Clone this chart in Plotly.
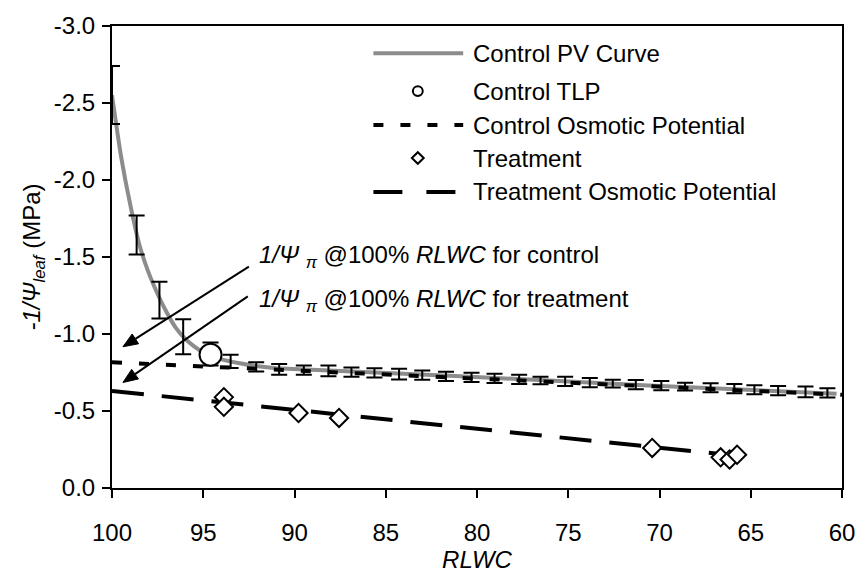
import math
import plotly.graph_objects as go

# ---------------- data ----------------
pv_x = [100, 99.5, 99, 98.5, 98, 97.5, 97, 96.5, 96, 95.5, 95, 94.5, 94, 93, 92, 91, 81.2, 70.9, 60.3]
pv_y = [-2.55, -2.15, -1.84, -1.58, -1.40, -1.26, -1.14, -1.04, -0.97, -0.92, -0.88, -0.855,
        -0.835, -0.81, -0.79, -0.778, -0.728, -0.667, -0.612]

ctrl_x = [100, 98.65, 97.4, 96.1, 94.6, 93.5, 92.1, 90.84, 89.49, 88.14, 86.88, 85.62, 84.27,
          83.0, 81.7, 80.3, 79.04, 77.69, 76.52, 75.17, 73.82, 72.56, 71.3, 69.9, 68.6, 67.2,
          65.9, 64.8, 63.5, 62.0, 60.8]
ctrl_y = [-2.552, -1.643, -1.22, -0.982, -0.87, -0.822, -0.786, -0.770, -0.765, -0.760, -0.752,
          -0.747, -0.740, -0.733, -0.725, -0.718, -0.712, -0.705, -0.698, -0.692, -0.685, -0.678,
          -0.672, -0.665, -0.658, -0.651, -0.645, -0.638, -0.632, -0.624, -0.617]
ctrl_err = [0.188, 0.127, 0.12, 0.113, 0.075, 0.043, 0.03, 0.035, 0.03, 0.035, 0.03, 0.03, 0.035,
            0.03, 0.03, 0.03, 0.03, 0.03, 0.025, 0.03, 0.03, 0.025, 0.03, 0.03, 0.025, 0.03, 0.03,
            0.03, 0.03, 0.035, 0.03]

tlp_x = [94.6]
tlp_y = [-0.865]

ctrl_osm_x = [100, 60]
ctrl_osm_y = [-0.816, -0.605]

trt_x = [93.87, 93.87, 89.78, 87.56, 70.4, 66.65, 66.16, 65.75]
trt_y = [-0.59, -0.527, -0.487, -0.455, -0.26, -0.199, -0.185, -0.216]

trt_osm_x = [100, 65.8]
trt_osm_y = [-0.63, -0.21]

x_ticks = [100, 95, 90, 85, 80, 75, 70, 65, 60]
x_ticklabels = ["100", "95", "90", "85", "80", "75", "70", "65", "60"]
y_ticks = [0, -0.5, -1.0, -1.5, -2.0, -2.5, -3.0]
y_ticklabels = ["0.0", "-0.5", "-1.0", "-1.5", "-2.0", "-2.5", "-3.0"]

legend_names = ["Control PV Curve", "Control TLP", "Control Osmotic Potential",
                "Treatment", "Treatment Osmotic Potential"]

# annotation arrows (head / tail in data units)
arrow_heads = [(99.4, -0.917), (99.4, -0.685)]
arrow_tails = [(92.5, -1.437), (92.56, -1.244)]

# ---------------- layout constants ----------------
W, H = 867, 579
L, R, T, B = 112, 15, 15, 88
PW, PH = W - L - R, H - T - B
FONT = "Liberation Sans, Arial, sans-serif"
FS = 24
GRAY = "#8c8c8c"
XR = [100, 60]
YR = [0, -3]


def px(xp):
    return (xp - L) / PW


def py(yp):
    return (H - B - yp) / PH


def dx2px(v):
    return L + (v - XR[0]) / (XR[1] - XR[0]) * PW


def dy2px(v):
    return H - B - (v - YR[0]) / (YR[1] - YR[0]) * PH


fig = go.Figure()

fig.add_trace(go.Scatter(x=pv_x, y=pv_y, mode="lines",
                         line=dict(color=GRAY, width=4, shape="spline", smoothing=0.6),
                         name=legend_names[0], showlegend=False, cliponaxis=False))
fig.add_trace(go.Scatter(x=ctrl_osm_x, y=ctrl_osm_y, mode="lines",
                         line=dict(color="black", width=4, dash="10px,17px"),
                         name=legend_names[2], showlegend=False))
fig.add_trace(go.Scatter(x=ctrl_x, y=ctrl_y, mode="markers",
                         marker=dict(size=2, color="rgba(0,0,0,0)"),
                         error_y=dict(type="data", array=ctrl_err, visible=True, color="black",
                                      thickness=2, width=8),
                         showlegend=False, cliponaxis=False))
fig.add_trace(go.Scatter(x=trt_osm_x, y=trt_osm_y, mode="lines",
                         line=dict(color="black", width=4, dash="32px,18px"),
                         name=legend_names[4], showlegend=False))
fig.add_trace(go.Scatter(x=trt_x, y=trt_y, mode="markers",
                         marker=dict(symbol="diamond", size=14, color="white",
                                     line=dict(color="black", width=2)),
                         name=legend_names[3], showlegend=False))
fig.add_trace(go.Scatter(x=tlp_x, y=tlp_y, mode="markers",
                         marker=dict(symbol="circle", size=22, color="white",
                                     line=dict(color="black", width=2)),
                         name=legend_names[1], showlegend=False))

shapes = []
annotations = []

# ---- custom legend ----
row_y = [43, 82, 117, 151, 186]
sx0, sx1, tx = 377, 468, 476
shapes.append(dict(type="line", xref="paper", yref="paper", x0=px(sx0), x1=px(sx1),
                   y0=py(row_y[0]), y1=py(row_y[0]), line=dict(color=GRAY, width=4)))
r = 5
shapes.append(dict(type="circle", xref="paper", yref="paper", x0=px(422 - r), x1=px(422 + r),
                   y0=py(row_y[1] - r), y1=py(row_y[1] + r), line=dict(color="black", width=2),
                   fillcolor="white"))
shapes.append(dict(type="line", xref="paper", yref="paper", x0=px(sx0), x1=px(sx1),
                   y0=py(row_y[2]), y1=py(row_y[2]),
                   line=dict(color="black", width=4, dash="10px,17px")))
d = 6
cx, cy = 422, row_y[3]
shapes.append(dict(type="path", xref="paper", yref="paper",
                   path=f"M{px(cx - d)},{py(cy)} L{px(cx)},{py(cy - d)} L{px(cx + d)},{py(cy)} L{px(cx)},{py(cy + d)} Z",
                   line=dict(color="black", width=2), fillcolor="white"))
shapes.append(dict(type="line", xref="paper", yref="paper", x0=px(sx0), x1=px(sx1),
                   y0=py(row_y[4]), y1=py(row_y[4]),
                   line=dict(color="black", width=4, dash="29px,24px")))
for name, yy in zip(legend_names, row_y):
    annotations.append(dict(text=name, xref="paper", yref="paper", x=px(tx), y=py(yy),
                            xanchor="left", yanchor="middle", showarrow=False,
                            font=dict(family=FONT, size=FS, color="black")))

# ---- arrows drawn as shapes ----
HEAD_LEN, HEAD_HALF = 15, 6
for (hx, hy), (tx_, ty_) in zip(arrow_heads, arrow_tails):
    hpx, hpy = dx2px(hx), dy2px(hy)
    tpx, tpy = dx2px(tx_), dy2px(ty_)
    vx, vy = hpx - tpx, hpy - tpy
    n = math.hypot(vx, vy)
    ux, uy = vx / n, vy / n
    bx, by = hpx - HEAD_LEN * ux, hpy - HEAD_LEN * uy
    shapes.append(dict(type="line", xref="paper", yref="paper", x0=px(tpx), y0=py(tpy),
                       x1=px(bx), y1=py(by), line=dict(color="black", width=2)))
    p1 = (bx - HEAD_HALF * uy, by + HEAD_HALF * ux)
    p2 = (bx + HEAD_HALF * uy, by - HEAD_HALF * ux)
    shapes.append(dict(type="path", xref="paper", yref="paper",
                       path=f"M{px(hpx)},{py(hpy)} L{px(p1[0])},{py(p1[1])} L{px(p2[0])},{py(p2[1])} Z",
                       line=dict(color="black", width=1), fillcolor="black"))

annotations.append(dict(text="<i>1/Ψ</i> <sub><i>π</i></sub> @100% <i>RLWC</i> for control",
                        xref="paper", yref="paper", x=px(259), y=py(252), xanchor="left", yanchor="middle",
                        showarrow=False, font=dict(family=FONT, size=FS, color="black")))
annotations.append(dict(text="<i>1/Ψ</i> <sub><i>π</i></sub> @100% <i>RLWC</i> for treatment",
                        xref="paper", yref="paper", x=px(259), y=py(298), xanchor="left", yanchor="middle",
                        showarrow=False, font=dict(family=FONT, size=FS, color="black")))

axis_common = dict(showgrid=False, zeroline=False, showline=True, linecolor="black", linewidth=2,
                   mirror=True, ticks="outside", ticklen=8, tickwidth=2, tickcolor="black",
                   tickfont=dict(family=FONT, size=FS, color="black"))

fig.update_layout(
    width=W, height=H,
    margin=dict(l=L, r=R, t=T, b=B),
    plot_bgcolor="white", paper_bgcolor="white",
    showlegend=False,
    shapes=shapes, annotations=annotations,
    xaxis=dict(range=XR, tickvals=x_ticks, ticktext=x_ticklabels, ticklabelstandoff=14,
               title=dict(text="<i>RLWC</i>", font=dict(family=FONT, size=FS, color="black"), standoff=4),
               **axis_common),
    yaxis=dict(range=YR, tickvals=y_ticks, ticktext=y_ticklabels, ticklabelstandoff=2,
               title=dict(text="<i>-1/Ψ</i><sub><i>leaf</i></sub> (MPa)",
                          font=dict(family=FONT, size=FS, color="black"), standoff=6),
               **axis_common),
)

fig.write_html("out.html")
